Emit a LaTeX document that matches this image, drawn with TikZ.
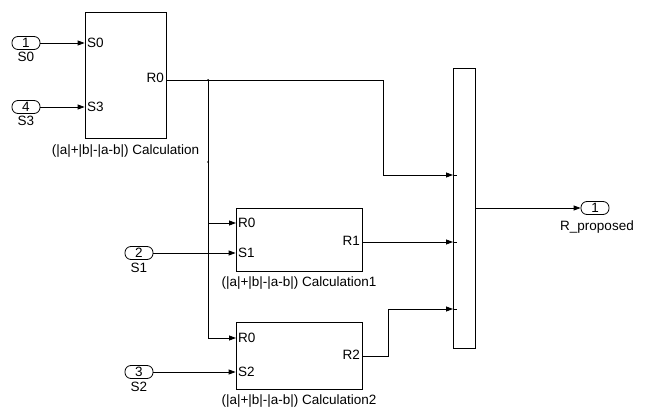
\documentclass[tikz,border=0pt]{standalone}
\usepackage{fontspec}
\setmainfont{Liberation Sans}
\usetikzlibrary{arrows.meta}
\begin{document}
\begin{tikzpicture}[x=1pt,y=-1pt,
  font=\fontsize{13.5}{15}\selectfont,
  blk/.style={draw, line width=0.8pt, inner sep=0pt},
  port/.style={draw, line width=0.8pt, rounded corners=6pt, minimum width=28pt, minimum height=13pt, inner sep=0pt},
  sig/.style={line width=0.8pt},
  arr/.style={line width=0.8pt, -{Triangle[length=7pt,width=5pt]}},
  lbl/.style={inner sep=1pt},
  dotb/.style={circle, fill, inner sep=0pt, minimum size=2pt}
]
\useasboundingbox (0,0) rectangle (646,409);
% blocks
\node[blk, minimum width=81pt, minimum height=126pt] (b1) at (125.5,75) {};
\node[blk, minimum width=126pt, minimum height=63pt] (b2) at (299,239.5) {};
\node[blk, minimum width=126pt, minimum height=67pt] (b3) at (299,355.5) {};
\node[blk, minimum width=22pt, minimum height=280pt] (mux) at (464,208) {};
% ports
\node[port] (in1) at (26,43) {1};
\node[port] (in4) at (26,107) {4};
\node[port] (in2) at (139,253) {2};
\node[port] (in3) at (139,372) {3};
\node[port] (out1) at (595,208) {1};
% port labels
\node[lbl] (l1) at (26,57) {S0};
\node[lbl] (l4) at (26,121) {S3};
\node[lbl] (l2) at (139,268) {S1};
\node[lbl] (l3) at (139,387) {S2};
\node[lbl] (lo) at (597,227) {R\_proposed};
% captions
\node[lbl] (c1) at (125.5,151) {(|a|+|b|-|a-b|) Calculation};
\node[lbl] (c2) at (299,283) {(|a|+|b|-|a-b|) Calculation1};
\node[lbl] (c3) at (299,401) {(|a|+|b|-|a-b|) Calculation2};
% inner port names
\node[lbl, anchor=west] (p1a) at (86,43) {S0};
\node[lbl, anchor=west] (p1b) at (86,107) {S3};
\node[lbl, anchor=east] (p1c) at (165,78) {R0};
\node[lbl, anchor=west] (p2a) at (237,223) {R0};
\node[lbl, anchor=west] (p2b) at (237,253) {S1};
\node[lbl, anchor=east] (p2c) at (361,241) {R1};
\node[lbl, anchor=west] (p3a) at (237,338) {R0};
\node[lbl, anchor=west] (p3b) at (237,372) {S2};
\node[lbl, anchor=east] (p3c) at (361,355) {R2};
% coordinates
\coordinate (o1) at (166,80);
\coordinate (br) at (208,80);
\coordinate (br2) at (208,162);
\coordinate (k1) at (383,80);
\coordinate (m1) at (453,175);
\coordinate (m2) at (453,242);
\coordinate (m3) at (453,309);
\coordinate (o2) at (362,242);
\coordinate (o3) at (362,356);
\coordinate (k3) at (388,356);
\coordinate (i2r) at (236,223);
\coordinate (i3r) at (236,338);
% connectors
\draw[arr] (in1.east) -- (in1.east -| b1.west);
\draw[arr] (in4.east) -- (in4.east -| b1.west);
\draw[arr] (in2.east) -- (in2.east -| b2.west);
\draw[arr] (in3.east) -- (in3.east -| b3.west);
\draw[arr] (o1) -- (k1) |- (m1);
\draw[sig] (br) -- (br |- i3r);
\draw[arr] (br |- i2r) -- (i2r);
\draw[arr] (br |- i3r) -- (i3r);
\draw[arr] (o2) -- (m2);
\draw[arr] (o3) -- (k3) |- (m3);
\draw[arr] (mux.east) -- (out1.west);
\node[dotb] at (br) {};
\node[dotb] at (br2) {};
% mux input ticks
\foreach \c in {m1,m2,m3} \draw[line width=0.5pt] ([xshift=1pt]\c) -- ([xshift=4pt]\c);
\end{tikzpicture}
\end{document}
